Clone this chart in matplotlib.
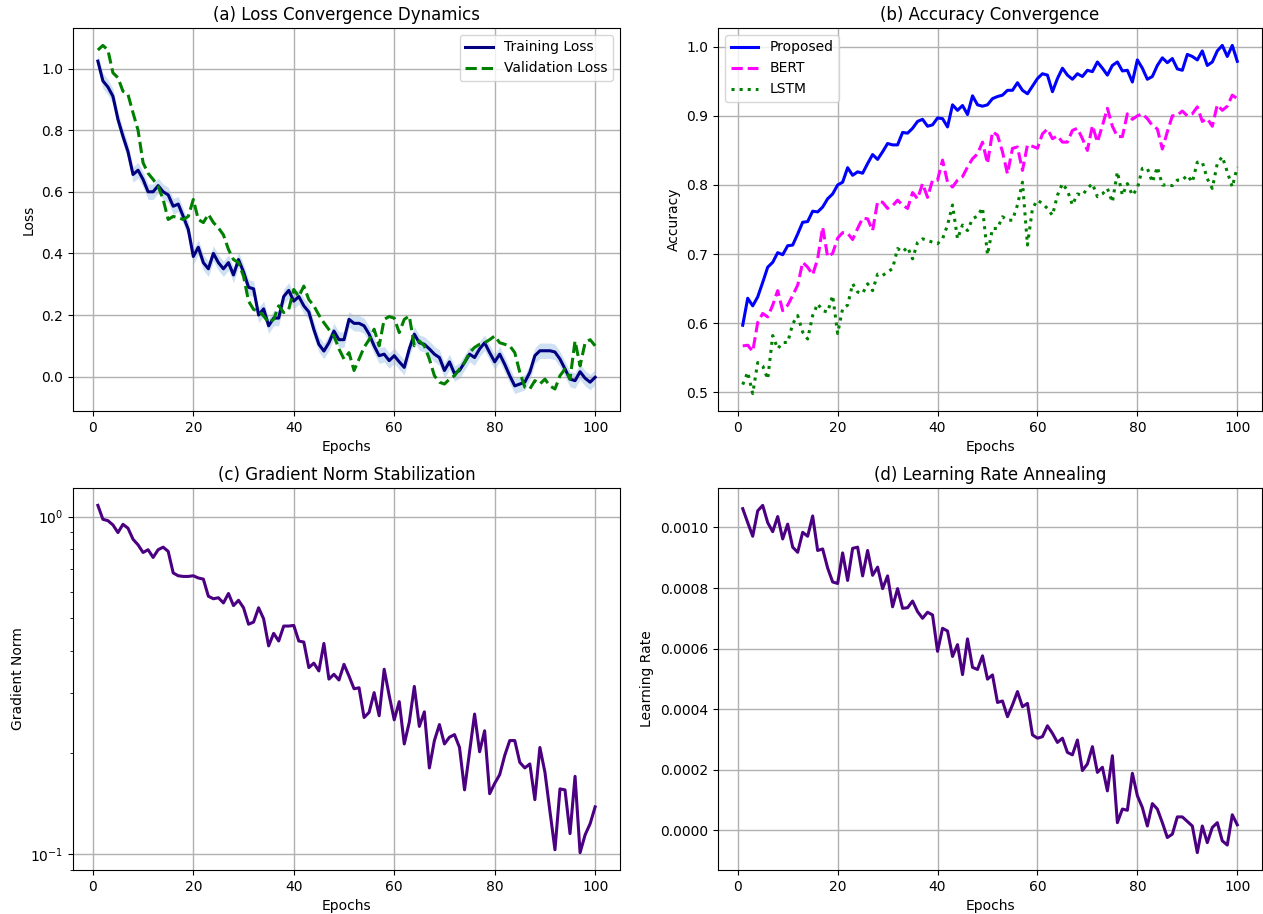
import numpy as np
import matplotlib
matplotlib.use("Agg")
import matplotlib.pyplot as plt

epochs = np.arange(1, 101)

# (a) loss curves
train_loss = [
    1.024, 0.96, 0.94, 0.91, 0.835, 0.78, 0.73, 0.656, 0.67, 0.64,
    0.60, 0.60, 0.62, 0.60, 0.59, 0.553, 0.56, 0.52, 0.478, 0.39,
    0.42, 0.37, 0.35, 0.40, 0.37, 0.35, 0.37, 0.33, 0.38, 0.34,
    0.29, 0.285, 0.20, 0.22, 0.165, 0.19, 0.19, 0.26, 0.28, 0.245,
    0.26, 0.23, 0.21, 0.153, 0.105, 0.083, 0.11, 0.148, 0.12, 0.12,
    0.186, 0.173, 0.173, 0.165, 0.138, 0.10, 0.068, 0.073, 0.052, 0.068,
    0.048, 0.03, 0.09, 0.138, 0.11, 0.105, 0.09, 0.073, 0.062, 0.02,
    0.048, 0.01, 0.02, 0.046, 0.073, 0.062, 0.09, 0.11, 0.078, 0.048,
    0.073, 0.04, 0.003, -0.03, -0.024, -0.018, 0.014, 0.068, 0.084, 0.084,
    0.084, 0.08, 0.057, 0.025, -0.008, -0.013, 0.016, -0.005, -0.018, -0.002]
val_loss = [
    1.06, 1.075, 1.06, 0.986, 0.97, 0.926, 0.916, 0.856, 0.80, 0.694,
    0.66, 0.64, 0.618, 0.575, 0.51, 0.52, 0.516, 0.51, 0.52, 0.575,
    0.51, 0.50, 0.527, 0.50, 0.483, 0.46, 0.413, 0.38, 0.37, 0.326,
    0.245, 0.218, 0.213, 0.197, 0.175, 0.186, 0.23, 0.208, 0.218, 0.283,
    0.26, 0.294, 0.25, 0.23, 0.20, 0.175, 0.153, 0.132, 0.09, 0.057,
    0.078, 0.02, 0.057, 0.095, 0.12, 0.154, 0.10, 0.186, 0.195, 0.19,
    0.143, 0.186, 0.197, 0.10, 0.116, 0.10, 0.057, 0.003, -0.018, -0.024,
    -0.008, 0.003, 0.025, 0.046, 0.078, 0.095, 0.105, 0.11, 0.12, 0.132,
    0.11, 0.105, 0.10, 0.078, 0.014, -0.034, -0.04, -0.013, -0.024, -0.008,
    -0.03, -0.04, 0.003, 0.025, -0.008, 0.116, 0.035, 0.11, 0.12, 0.10]
train_band = 0.025

# (b) accuracy curves
acc_proposed = [
    0.597, 0.636, 0.625, 0.638, 0.659, 0.681, 0.688, 0.702, 0.699, 0.712,
    0.713, 0.729, 0.746, 0.747, 0.762, 0.761, 0.768, 0.78, 0.787, 0.80,
    0.804, 0.825, 0.814, 0.819, 0.817, 0.831, 0.844, 0.837, 0.848, 0.86,
    0.858, 0.858, 0.876, 0.875, 0.882, 0.892, 0.895, 0.885, 0.887, 0.897,
    0.896, 0.884, 0.916, 0.908, 0.915, 0.902, 0.929, 0.916, 0.914, 0.916,
    0.925, 0.928, 0.93, 0.937, 0.937, 0.948, 0.937, 0.932, 0.943, 0.954,
    0.961, 0.959, 0.935, 0.954, 0.969, 0.959, 0.953, 0.961, 0.957, 0.966,
    0.964, 0.978, 0.969, 0.959, 0.973, 0.978, 0.965, 0.966, 0.949, 0.981,
    0.969, 0.953, 0.957, 0.973, 0.984, 0.977, 0.983, 0.968, 0.966, 0.989,
    0.986, 0.981, 0.994, 0.973, 0.978, 0.994, 1.002, 0.986, 1.002, 0.979]
acc_bert = [
    0.567, 0.568, 0.559, 0.601, 0.614, 0.609, 0.626, 0.647, 0.618, 0.626,
    0.64, 0.655, 0.688, 0.681, 0.67, 0.693, 0.739, 0.696, 0.701, 0.723,
    0.731, 0.73, 0.721, 0.737, 0.752, 0.751, 0.734, 0.776, 0.775, 0.766,
    0.77, 0.778, 0.771, 0.766, 0.789, 0.78, 0.802, 0.782, 0.807, 0.807,
    0.836, 0.804, 0.797, 0.807, 0.812, 0.826, 0.838, 0.845, 0.862, 0.831,
    0.877, 0.872, 0.848, 0.816, 0.853, 0.855, 0.821, 0.858, 0.856, 0.853,
    0.874, 0.881, 0.867, 0.871, 0.862, 0.862, 0.879, 0.882, 0.867, 0.85,
    0.886, 0.862, 0.886, 0.911, 0.885, 0.87, 0.87, 0.903, 0.895, 0.90,
    0.903, 0.896, 0.886, 0.881, 0.852, 0.877, 0.90, 0.901, 0.907, 0.90,
    0.903, 0.913, 0.892, 0.896, 0.885, 0.916, 0.908, 0.914, 0.93, 0.925]
acc_lstm = [
    0.511, 0.529, 0.498, 0.543, 0.538, 0.519, 0.582, 0.563, 0.572, 0.572,
    0.599, 0.611, 0.587, 0.577, 0.611, 0.628, 0.618, 0.616, 0.64, 0.585,
    0.621, 0.626, 0.657, 0.645, 0.643, 0.657, 0.647, 0.671, 0.669, 0.674,
    0.679, 0.708, 0.703, 0.71, 0.693, 0.717, 0.722, 0.72, 0.717, 0.715,
    0.722, 0.742, 0.771, 0.722, 0.742, 0.734, 0.751, 0.755, 0.767, 0.699,
    0.737, 0.737, 0.754, 0.749, 0.749, 0.771, 0.804, 0.713, 0.766, 0.778,
    0.773, 0.766, 0.756, 0.785, 0.802, 0.792, 0.771, 0.787, 0.785, 0.795,
    0.802, 0.783, 0.787, 0.795, 0.775, 0.819, 0.785, 0.802, 0.785, 0.795,
    0.824, 0.824, 0.804, 0.826, 0.80, 0.80, 0.799, 0.807, 0.807, 0.814,
    0.804, 0.833, 0.833, 0.809, 0.795, 0.831, 0.841, 0.819, 0.797, 0.826]

# (c) gradient norm
grad_norm = [
    1.08, 0.982, 0.973, 0.945, 0.897, 0.949, 0.924, 0.857, 0.825, 0.783,
    0.798, 0.757, 0.798, 0.812, 0.789, 0.681, 0.668, 0.665, 0.665, 0.668,
    0.658, 0.653, 0.581, 0.571, 0.575, 0.555, 0.592, 0.545, 0.565, 0.537,
    0.48, 0.487, 0.537, 0.498, 0.414, 0.451, 0.428, 0.474, 0.474, 0.476,
    0.428, 0.425, 0.357, 0.368, 0.349, 0.421, 0.33, 0.341, 0.328, 0.365,
    0.337, 0.309, 0.311, 0.254, 0.263, 0.301, 0.257, 0.353, 0.295, 0.25,
    0.283, 0.212, 0.246, 0.314, 0.239, 0.264, 0.18, 0.217, 0.242, 0.212,
    0.222, 0.226, 0.207, 0.155, 0.201, 0.26, 0.201, 0.232, 0.151, 0.162,
    0.172, 0.196, 0.217, 0.217, 0.187, 0.18, 0.185, 0.145, 0.207, 0.175,
    0.134, 0.103, 0.156, 0.155, 0.115, 0.17, 0.101, 0.114, 0.123, 0.138]

# (d) learning rate, in units of 1e-4
lr_e4 = [
    10.62, 10.16, 9.71, 10.55, 10.73, 10.16, 9.86, 10.36, 9.62, 10.11,
    9.35, 9.18, 9.84, 9.71, 10.38, 9.24, 9.29, 8.66, 8.20, 8.15,
    9.16, 8.25, 9.31, 9.35, 8.40, 9.24, 8.42, 8.69, 7.98, 8.40,
    7.38, 7.98, 7.33, 7.35, 7.57, 7.22, 7.00, 7.20, 7.11, 5.91,
    6.67, 6.58, 5.74, 6.13, 5.14, 6.32, 5.38, 5.31, 5.76, 4.99,
    5.13, 4.22, 4.27, 3.75, 4.14, 4.58, 4.08, 4.19, 3.15, 3.04,
    3.09, 3.45, 3.20, 2.90, 3.04, 2.57, 2.49, 2.98, 1.97, 2.19,
    2.76, 1.91, 2.08, 1.30, 2.46, 0.25, 0.70, 0.66, 1.88, 1.14,
    0.75, 0.14, 0.88, 0.70, 0.25, -0.24, -0.13, 0.44, 0.44, 0.29,
    0.14, -0.74, 0.14, -0.41, 0.09, 0.25, -0.35, -0.49, 0.51, 0.18]

train_loss = np.array(train_loss)
lr = np.array(lr_e4) * 1e-4

fig = plt.figure(figsize=(12.63, 9.14), dpi=100)
W, H = 1263, 914
def add_ax(l, t, r, b):
    return fig.add_axes([l / W, 1 - b / H, (r - l) / W, (b - t) / H])

ax_a = add_ax(73, 28, 620, 411)
ax_b = add_ax(718, 28, 1262, 411)
ax_c = add_ax(73, 488, 620, 870)
ax_d = add_ax(718, 488, 1262, 870)

ax_a.plot(epochs, train_loss, color="navy", lw=2.2, label="Training Loss")
ax_a.fill_between(epochs, train_loss - train_band, train_loss + train_band,
                  color="#9fc3e6", alpha=0.5, lw=0)
ax_a.plot(epochs, val_loss, color="green", lw=2.2, ls="--", label="Validation Loss")
ax_a.set_title("(a) Loss Convergence Dynamics", fontsize=12)
ax_a.set_ylabel("Loss")
ax_a.legend(loc="upper right", fontsize=10)

ax_b.plot(epochs, acc_proposed, color="blue", lw=2.2, label="Proposed")
ax_b.plot(epochs, acc_bert, color="magenta", lw=2.2, ls="--", label="BERT")
ax_b.plot(epochs, acc_lstm, color="green", lw=2.2, ls=":", label="LSTM")
ax_b.set_title("(b) Accuracy Convergence", fontsize=12)
ax_b.set_ylabel("Accuracy")
ax_b.legend(loc="upper left", fontsize=10)

ax_c.semilogy(epochs, grad_norm, color="indigo", lw=2.2)
ax_c.set_title("(c) Gradient Norm Stabilization", fontsize=12)
ax_c.set_ylabel("Gradient Norm")

ax_d.plot(epochs, lr, color="indigo", lw=2.2)
ax_d.set_title("(d) Learning Rate Annealing", fontsize=12)
ax_d.set_ylabel("Learning Rate")

for ax in (ax_a, ax_b, ax_c, ax_d):
    ax.set_xlabel("Epochs")
    ax.grid(True, color="#b0b0b0", lw=1.0)
    ax.set_xticks([0, 20, 40, 60, 80, 100])
    ax.tick_params(labelsize=10)

fig.savefig("out.png", dpi=100)
